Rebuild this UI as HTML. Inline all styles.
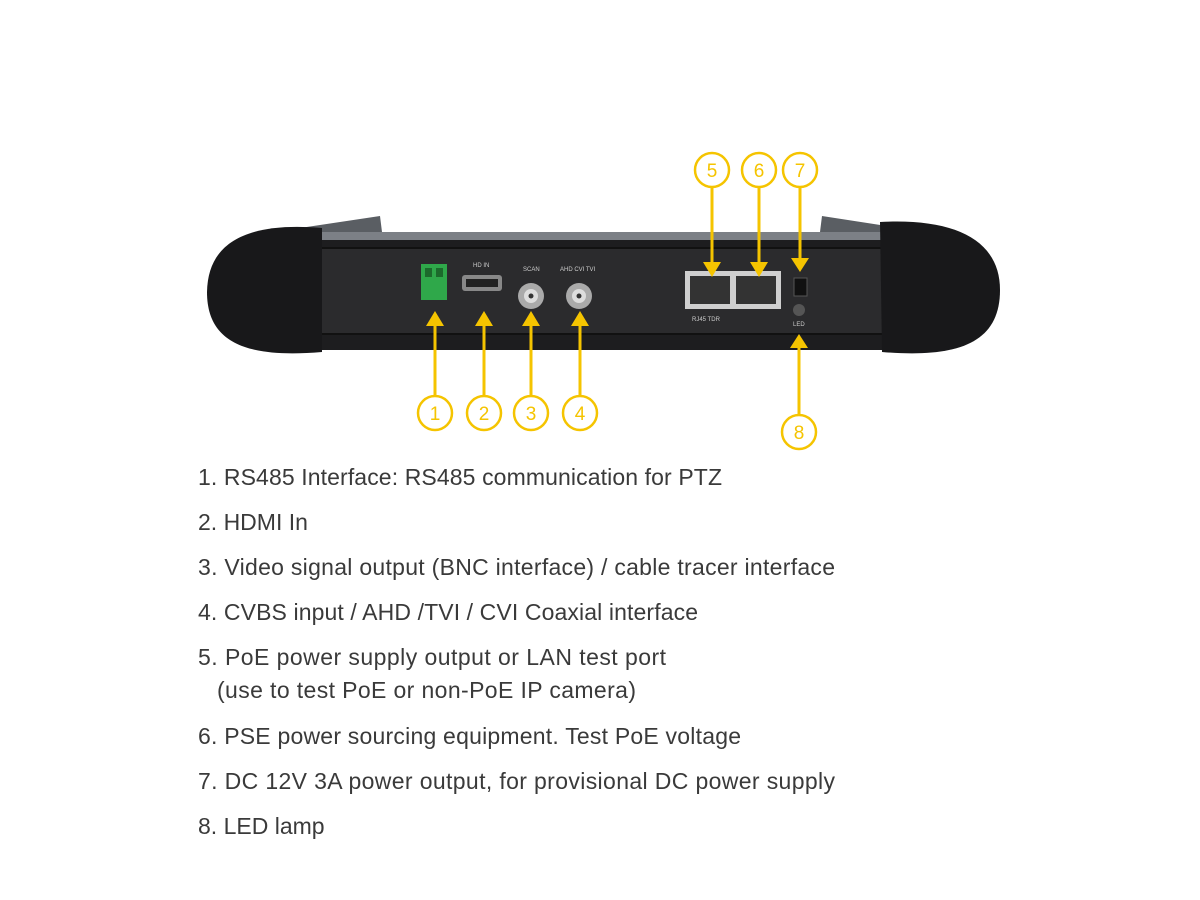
<!DOCTYPE html>
<html><head><meta charset="utf-8"><style>html,body{margin:0;padding:0;background:#fff}svg{display:block}</style></head><body>
<svg width="1200" height="900" viewBox="0 0 1200 900" xmlns="http://www.w3.org/2000/svg" font-family="Liberation Sans, sans-serif">
<rect width="1200" height="900" fill="#fff"/>
<path d="M300 228 L380 216 L382 232 L820 232 L822 216 L900 228 L900 250 L300 250 Z" fill="#5a5e63"/>
<rect x="300" y="232" width="600" height="14" fill="#7c8086"/>
<rect x="288" y="240" width="626" height="110" rx="14" fill="#1d1d1f"/>
<rect x="310" y="248" width="586" height="86" rx="6" fill="#2b2b2d" stroke="#111" stroke-width="2"/>
<path d="M322 228 C250 222 208 240 207 292 C207 345 250 358 322 352 Z" fill="#18181a"/>
<path d="M880 222 C955 218 1000 240 1000 290 C1000 345 955 358 882 352 Z" fill="#18181a"/>
<rect x="421" y="264" width="26" height="36" fill="#2fa84a"/>
<rect x="425" y="268" width="7" height="9" fill="#1c6a2c"/><rect x="436" y="268" width="7" height="9" fill="#1c6a2c"/>
<text x="473" y="267" font-size="6" fill="#ccc">HD IN</text>
<rect x="462" y="275" width="40" height="16" rx="3" fill="#888"/><rect x="466" y="279" width="32" height="8" fill="#222"/>
<text x="523" y="271" font-size="6" fill="#ccc">SCAN</text>
<text x="560" y="271" font-size="6" fill="#ccc">AHD CVI TVI</text>
<circle cx="531" cy="296" r="13" fill="#aaa"/><circle cx="531" cy="296" r="7" fill="#ddd"/><circle cx="531" cy="296" r="2.5" fill="#333"/>
<circle cx="579" cy="296" r="13" fill="#aaa"/><circle cx="579" cy="296" r="7" fill="#ddd"/><circle cx="579" cy="296" r="2.5" fill="#333"/>
<rect x="685" y="271" width="96" height="38" fill="#cfcfcf"/>
<rect x="690" y="276" width="40" height="28" fill="#333"/><rect x="736" y="276" width="40" height="28" fill="#333"/>
<text x="692" y="321" font-size="6" fill="#ccc">RJ45 TDR</text>
<rect x="794" y="278" width="13" height="18" fill="#111" stroke="#555"/>
<circle cx="799" cy="310" r="6" fill="#555"/>
<text x="793" y="326" font-size="6" fill="#ccc">LED</text>
<g stroke="#f5c400" stroke-width="3" fill="none">
<line x1="435" y1="395" x2="435" y2="322"/><line x1="484" y1="395" x2="484" y2="322"/>
<line x1="531" y1="395" x2="531" y2="322"/><line x1="580" y1="395" x2="580" y2="322"/>
<line x1="712" y1="188" x2="712" y2="266"/><line x1="759" y1="188" x2="759" y2="266"/>
<line x1="800" y1="188" x2="800" y2="262"/><line x1="799" y1="414" x2="799" y2="344"/>
</g>
<g fill="#f5c400">
<path d="M426 326 L444 326 L435 311 Z"/><path d="M475 326 L493 326 L484 311 Z"/>
<path d="M522 326 L540 326 L531 311 Z"/><path d="M571 326 L589 326 L580 311 Z"/>
<path d="M703 262 L721 262 L712 277 Z"/><path d="M750 262 L768 262 L759 277 Z"/>
<path d="M791 258 L809 258 L800 272 Z"/><path d="M790 348 L808 348 L799 334 Z"/>
</g>
<g stroke="#f5c400" stroke-width="2.5" fill="#fff">
<circle cx="435" cy="413" r="17"/><circle cx="484" cy="413" r="17"/><circle cx="531" cy="413" r="17"/><circle cx="580" cy="413" r="17"/>
<circle cx="712" cy="170" r="17"/><circle cx="759" cy="170" r="17"/><circle cx="800" cy="170" r="17"/><circle cx="799" cy="432" r="17"/>
</g>
<g fill="#f5c400" font-size="19" text-anchor="middle">
<text x="435" y="420">1</text><text x="484" y="420">2</text><text x="531" y="420">3</text><text x="580" y="420">4</text>
<text x="712" y="177">5</text><text x="759" y="177">6</text><text x="800" y="177">7</text><text x="799" y="439">8</text>
</g>
<g fill="#3a3a3a" font-size="23">
<text x="198" y="485" textLength="524">1. RS485 Interface: RS485 communication for PTZ</text>
<text x="198" y="530">2. HDMI In</text>
<text x="198" y="575" textLength="637">3. Video signal output (BNC interface) / cable tracer interface</text>
<text x="198" y="620" textLength="500">4. CVBS input / AHD /TVI / CVI Coaxial interface</text>
<text x="198" y="665" textLength="468">5. PoE power supply output or LAN test port</text>
<text x="217" y="698" textLength="419">(use to test PoE or non-PoE IP camera)</text>
<text x="198" y="744" textLength="543">6. PSE power sourcing equipment. Test PoE voltage</text>
<text x="198" y="789" textLength="637">7. DC 12V 3A power output, for provisional DC power supply</text>
<text x="198" y="834">8. LED lamp</text>
</g>
</svg>
</body></html>
